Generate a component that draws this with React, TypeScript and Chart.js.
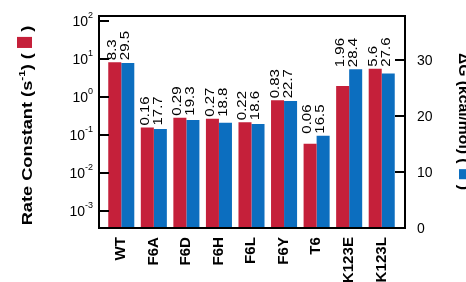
import React, { useEffect, useRef } from 'react';
import { Chart, registerables } from 'chart.js';

Chart.register(...registerables);

const categories = ['WT', 'F6A', 'F6D', 'F6H', 'F6L', 'F6Y', 'T6', 'K123E', 'K123L'];
const rateConstants = [8.3, 0.16, 0.29, 0.27, 0.22, 0.83, 0.06, 1.96, 5.6];
const deltaG = [29.5, 17.7, 19.3, 18.8, 18.6, 22.7, 16.5, 28.4, 27.6];
const rateLabels = ['8.3', '0.16', '0.29', '0.27', '0.22', '0.83', '0.06', '1.96', '5.6'];
const deltaGLabels = ['29.5', '17.7', '19.3', '18.8', '18.6', '22.7', '16.5', '28.4', '27.6'];
const logTickExponents = [2, 1, 0, -1, -2, -3];
const rightTicks = [0, 10, 20, 30];

const RED = '#C5203A';
const BLUE = '#0C6EBF';
const FONT = "'Liberation Sans', Arial, sans-serif";

const decorPlugin = {
  id: 'decor',
  afterDraw(chart: any) {
    const ctx: CanvasRenderingContext2D = chart.ctx;
    const area = chart.chartArea;
    const x = chart.scales.x;
    const yL = chart.scales.yL;
    const yR = chart.scales.yR;
    const fl = area.left - 6;
    const fr = area.right + 7;
    const ft = area.top;
    const fb = area.bottom;
    ctx.save();
    ctx.strokeStyle = '#000';
    ctx.fillStyle = '#000';
    ctx.lineWidth = 2;
    ctx.strokeRect(fl, ft, fr - fl, fb - ft);

    // left log ticks
    for (const e of logTickExponents) {
      const y = Math.round(yL.getPixelForValue(Math.pow(10, e)));
      ctx.beginPath();
      ctx.moveTo(fl, y);
      ctx.lineTo(fl + 10, y);
      ctx.stroke();
      const exp = String(e);
      ctx.font = `14px ${FONT}`;
      const wBase = ctx.measureText('10').width;
      ctx.font = `9px ${FONT}`;
      const wExp = ctx.measureText(exp).width;
      const right = fl - 6;
      ctx.textBaseline = 'middle';
      ctx.textAlign = 'left';
      ctx.font = `14px ${FONT}`;
      ctx.fillText('10', right - wExp - wBase, y + 1);
      ctx.font = `9px ${FONT}`;
      ctx.fillText(exp, right - wExp, y - 5);
    }

    // right ticks
    for (const v of rightTicks) {
      const y = Math.round(yR.getPixelForValue(v));
      if (v !== 0) {
        ctx.beginPath();
        ctx.moveTo(fr - 10, y);
        ctx.lineTo(fr, y);
        ctx.stroke();
      }
      ctx.font = `14px ${FONT}`;
      ctx.textAlign = 'left';
      ctx.textBaseline = 'middle';
      ctx.fillText(String(v), fr + 12, y + 1);
    }

    // category labels
    categories.forEach((c, i) => {
      const px = x.getPixelForValue(i);
      ctx.save();
      ctx.translate(px, fb + 9);
      ctx.rotate(-Math.PI / 2);
      ctx.scale(1.08, 1);
      ctx.font = `bold 14px ${FONT}`;
      ctx.textAlign = 'right';
      ctx.textBaseline = 'middle';
      ctx.fillText(c, 0, 0);
      ctx.restore();
    });

    // data labels
    const m0 = chart.getDatasetMeta(0).data;
    const m1 = chart.getDatasetMeta(1).data;
    categories.forEach((_, i) => {
      const b0 = m0[i];
      const b1 = m1[i];
      const top = Math.min(b0.y, b1.y) - 2;
      const draw = (bx: number, txt: string) => {
        ctx.save();
        ctx.translate(bx - 2, top);
        ctx.rotate(-Math.PI / 2);
        ctx.scale(1.25, 1);
        ctx.font = `12px ${FONT}`;
        ctx.textAlign = 'left';
        ctx.textBaseline = 'middle';
        ctx.fillText(txt, 0, 0);
        ctx.restore();
      };
      draw(b0.x, rateLabels[i]);
      draw(b1.x, deltaGLabels[i]);
    });

    // left title (rotated CCW)
    {
      const big = `bold 14px ${FONT}`;
      const sup = `bold 9px ${FONT}`;
      ctx.font = big;
      const p1 = 'Rate Constant (s';
      const p3 = ') (';
      const p5 = ')';
      const w1 = ctx.measureText(p1).width;
      const w3 = ctx.measureText(p3).width;
      const w5 = ctx.measureText(p5).width;
      ctx.font = sup;
      const w2 = ctx.measureText('-1').width;
      const sq = 8.5;
      const gap = 4;
      const total = w1 + w2 + w3 + gap + sq + gap + w5;
      ctx.save();
      ctx.translate(32, 125.5);
      ctx.rotate(-Math.PI / 2);
      ctx.scale(1.3, 1);
      ctx.textAlign = 'left';
      ctx.textBaseline = 'alphabetic';
      let cx = -total / 2;
      ctx.font = big;
      ctx.fillText(p1, cx, 0);
      cx += w1;
      ctx.font = sup;
      ctx.fillText('-1', cx, -7);
      cx += w2;
      ctx.font = big;
      ctx.fillText(p3, cx, 0);
      cx += w3 + gap;
      ctx.fillStyle = RED;
      ctx.fillRect(cx, -15, sq, 15);
      ctx.fillStyle = '#000';
      cx += sq + gap;
      ctx.fillText(p5, cx, 0);
      ctx.restore();
    }

    // right title (rotated CW)
    {
      const big = `bold 14px ${FONT}`;
      ctx.font = big;
      const p1 = 'ΔG (kcal/mol) (';
      const p3 = ')';
      const w1 = ctx.measureText(p1).width;
      const w3 = ctx.measureText(p3).width;
      const sq = 9;
      const gap = 5;
      const total = w1 + gap + sq + gap + w3;
      ctx.save();
      ctx.translate(459, 121.5);
      ctx.rotate(Math.PI / 2);
      ctx.scale(1.12, 1);
      ctx.textAlign = 'left';
      ctx.textBaseline = 'alphabetic';
      let cx = -total / 2;
      ctx.fillText(p1, cx, 0);
      cx += w1 + gap;
      ctx.fillStyle = BLUE;
      ctx.fillRect(cx, -15, sq, 15);
      ctx.fillStyle = '#000';
      cx += sq + gap;
      ctx.fillText(p3, cx, 0);
      ctx.restore();
    }
    ctx.restore();
  },
};

export default function App() {
  const ref = useRef<HTMLCanvasElement | null>(null);
  useEffect(() => {
    document.body.style.margin = '0';
    const canvas = ref.current;
    if (!canvas) return;
    const chart = new Chart(canvas, {
      type: 'bar',
      data: {
        labels: categories,
        datasets: [
          {
            label: 'Rate Constant',
            data: rateConstants,
            backgroundColor: RED,
            yAxisID: 'yL',
            categoryPercentage: 0.8,
            barPercentage: 1,
          },
          {
            label: 'ΔG',
            data: deltaG,
            backgroundColor: BLUE,
            yAxisID: 'yR',
            categoryPercentage: 0.8,
            barPercentage: 1,
          },
        ],
      },
      options: {
        responsive: false,
        animation: false,
        devicePixelRatio: 1,
        layout: { padding: { left: 105, right: 68, top: 16, bottom: 54 } },
        plugins: { legend: { display: false }, tooltip: { enabled: false } },
        scales: {
          x: { display: false, type: 'category' },
          yL: { display: false, type: 'logarithmic', min: 3.68e-4, max: 135 },
          yR: { display: false, type: 'linear', min: 0, max: 37.9, position: 'right' },
        },
      } as any,
      plugins: [decorPlugin],
    });
    return () => chart.destroy();
  }, []);
  return <canvas ref={ref} width={466} height={282} style={{ display: 'block' }} />;
}
